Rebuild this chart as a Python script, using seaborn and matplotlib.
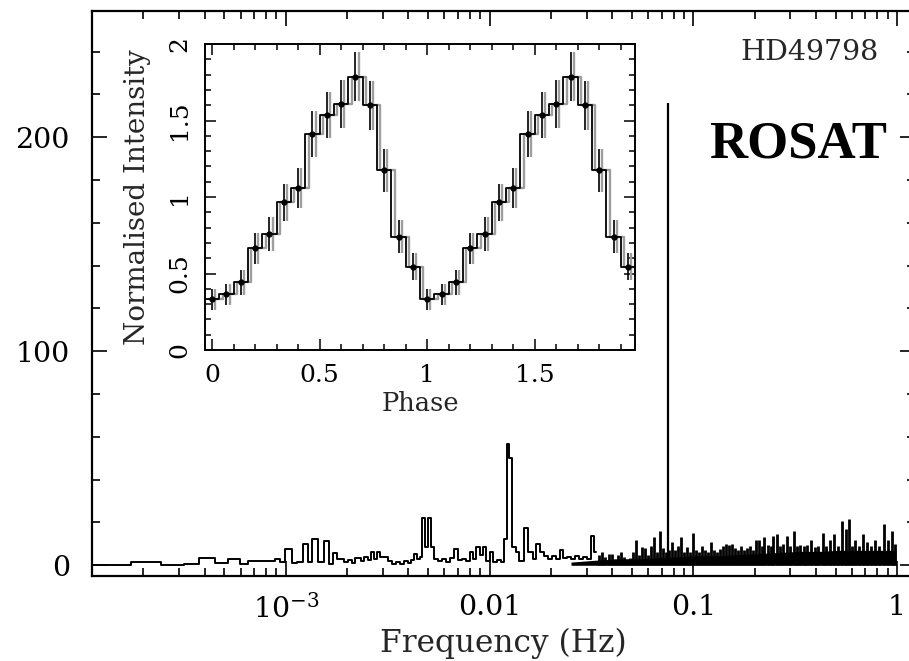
import numpy as np
import pandas as pd
import matplotlib
matplotlib.use("Agg")
import matplotlib.pyplot as plt
from matplotlib import font_manager
from matplotlib.font_manager import FontProperties
from matplotlib.ticker import (FixedLocator, FixedFormatter, MultipleLocator, LogLocator,
                               NullFormatter, FuncFormatter)
import seaborn as sns

# ---------------- power spectrum data ----------------
# low-frequency part: binned power (bin edges in log10 Hz, one level per bin)
low_edges_log = [-3.960, -3.760, -3.613, -3.500, -3.426, -3.348, -3.284, -3.225, -3.186,
                 -3.054, -3.029, -3.005, -2.971, -2.946, -2.917, -2.892, -2.873, -2.843,
                 -2.814, -2.789, -2.770, -2.750, -2.735, -2.716, -2.696, -2.676, -2.662, -2.637]
low_power = [0.3, 1.5, 0.1, 0.4, 3.2, 1.0, 3.1, 0.5, 2.2, 3.0, 1.5, 7.5, 1.0, 1.5, 9.8,
             1.5, 12.5, 1.5, 11.4, 0.8, 5.9, 3.0, 3.0, 1.5, 2.5, 1.0, 3.5]

# intermediate frequencies (log10 Hz, power)
mid_log_freq = [-2.627, -2.608, -2.588, -2.574, -2.559, -2.544, -2.529, -2.510, -2.490, -2.471,
                -2.451, -2.431, -2.412, -2.392, -2.377, -2.363, -2.348, -2.338, -2.324, -2.309,
                -2.294, -2.279, -2.265, -2.245, -2.225, -2.206, -2.186, -2.162, -2.147, -2.127,
                -2.108, -2.088, -2.074, -2.054, -2.039, -2.025, -2.010, -1.990, -1.975, -1.956,
                -1.936, -1.922, -1.907, -1.897, -1.882, -1.863, -1.843, -1.819, -1.799, -1.779,
                -1.760, -1.740, -1.721, -1.701, -1.681, -1.662, -1.647, -1.627, -1.608, -1.588,
                -1.569, -1.549, -1.529, -1.510, -1.495, -1.475]
mid_power = [2.0, 4.0, 2.5, 6.0, 3.0, 6.2, 3.7, 4.0, 2.0, 0.8,
             1.5, 0.5, 1.8, 1.0, 2.5, 5.5, 3.0, 4.0, 22.0, 8.6,
             22.0, 8.6, 3.0, 2.0, 3.0, 1.5, 3.5, 7.8, 2.5, 3.0,
             2.0, 6.0, 3.0, 8.6, 5.0, 8.6, 2.0, 6.0, 1.5, 2.3,
             1.5, 12.5, 56.5, 50.0, 8.6, 6.0, 2.0, 17.6, 6.0, 3.0,
             10.0, 6.0, 4.5, 3.0, 4.5, 3.0, 7.0, 3.5, 4.0, 3.0,
             4.5, 3.0, 4.0, 3.0, 13.5, 6.0]

# high frequencies: individual noise peaks (log10 Hz, power)
hf_log_freq = [-1.461, -1.446, -1.431, -1.412, -1.397, -1.382, -1.368, -1.353, -1.338, -1.324,
               -1.309, -1.294, -1.279, -1.265, -1.250, -1.235, -1.221, -1.206, -1.191, -1.176,
               -1.162, -1.147, -1.132, -1.118, -1.103, -1.088, -1.074, -1.059, -1.044, -1.029,
               -1.015, -1.000, -0.985, -0.971, -0.956, -0.941, -0.926, -0.912, -0.897, -0.882,
               -0.868, -0.853, -0.838, -0.824, -0.809, -0.794, -0.779, -0.765, -0.750, -0.735,
               -0.721, -0.706, -0.691, -0.676, -0.662, -0.652, -0.632, -0.618, -0.608, -0.588,
               -0.574, -0.559, -0.539, -0.525, -0.505, -0.490, -0.475, -0.456, -0.441, -0.422,
               -0.402, -0.387, -0.363, -0.348, -0.328, -0.309, -0.289, -0.270, -0.250, -0.235,
               -0.221, -0.206, -0.186, -0.167, -0.147, -0.127, -0.108, -0.088, -0.064, -0.044,
               -0.025, -0.010]
hf_power = [5.0, 6.0, 4.0, 5.4, 5.4, 3.0, 5.0, 6.2, 4.0, 3.0,
            3.5, 6.0, 11.7, 5.0, 8.7, 8.0, 5.0, 9.0, 13.2, 6.0,
            16.0, 8.0, 6.0, 7.0, 10.7, 7.0, 9.0, 13.0, 6.0, 8.6,
            6.0, 14.9, 7.0, 6.0, 9.0, 7.0, 6.0, 10.7, 7.0, 6.0,
            7.5, 9.0, 10.0, 9.5, 10.0, 8.0, 7.0, 9.0, 7.0, 8.0,
            9.0, 7.0, 11.7, 11.7, 9.0, 13.0, 9.3, 9.0, 13.9, 14.7,
            9.0, 10.0, 13.9, 9.0, 16.0, 9.0, 9.3, 9.0, 9.3, 12.0,
            8.6, 9.0, 15.0, 9.0, 11.7, 14.7, 9.0, 20.7, 17.0, 21.8,
            9.0, 11.7, 9.0, 14.7, 11.0, 9.0, 11.7, 9.0, 19.5, 11.7,
            16.0, 10.0]

# noise continuum level (log10 Hz, power)
cont_log_freq = [-1.600, -1.461, -1.363, -1.265, -1.167, -1.069, -0.971,
                 -0.873, -0.775, -0.676, -0.578, -0.480, -0.382, -0.284, -0.186, -0.088, -0.005]
cont_power = [1.5, 2.5, 3.0, 3.0, 3.5, 4.0, 4.5, 4.5, 5.0, 5.5, 6.0, 6.5, 6.5,
              7.0, 7.0, 7.0, 7.0]

# spin frequency peak
peak_freq = 0.0754
peak_power = 216.0

freq_ticks = [1e-3, 0.01, 0.1, 1.0]
freq_tick_labels = [r"$10^{-3}$", "0.01", "0.1", "1"]
power_ticks = [0, 100, 200]

# ---------------- folded light curve ----------------
profile = [0.331, 0.364, 0.442, 0.664, 0.758, 0.965, 1.061, 1.410, 1.536, 1.608,
           1.786, 1.601, 1.176, 0.741, 0.545]
profile_err = [0.07, 0.07, 0.08, 0.10, 0.11, 0.12, 0.13, 0.15, 0.15, 0.16,
               0.16, 0.16, 0.14, 0.11, 0.09]
n_bins = len(profile)
phase = np.arange(2 * n_bins) / n_bins
intensity = np.array(profile + profile)
intensity_err = np.array(profile_err + profile_err)

# ---------------- fonts ----------------
def bold_times(size):
    """Bold Times-like face, located by file name when available."""
    for path in font_manager.findSystemFonts():
        name = path.split("/")[-1].lower()
        if name.startswith("liberationserif-bold.") :
            return FontProperties(fname=path, size=size)
    return FontProperties(family=["Liberation Serif", "DejaVu Serif"], weight="bold", size=size)

# ---------------- figure ----------------
sns.set_style("ticks")
plt.rcParams["font.family"] = ["DejaVu Serif"]
plt.rcParams["mathtext.fontset"] = "dejavuserif"

fig = plt.figure(figsize=(9.09, 6.61), dpi=100)
ax = fig.add_axes([0.1012, 0.1286, 0.9054, 0.8548])

lw_spec = 1.4
# low-frequency bins
low_x = 10 ** np.array(low_edges_log)
low_y = np.r_[low_power, low_power[-1]]
sns.lineplot(x=low_x, y=low_y, drawstyle="steps-post", color="k", lw=lw_spec,
             ax=ax, sort=False, estimator=None)
# intermediate range
mid_x = 10 ** np.array(mid_log_freq)
sns.lineplot(x=np.r_[low_x[-1], mid_x], y=np.r_[low_power[-1], mid_power],
             drawstyle="steps-mid", color="k", lw=lw_spec, ax=ax, sort=False, estimator=None)
# noise continuum and individual peaks
cont_x = 10 ** np.array(cont_log_freq)
ax.fill_between(cont_x, 0, cont_power, color="k", lw=0)
hf_x = 10 ** np.array(hf_log_freq)
ax.vlines(hf_x, 0, hf_power, color="k", lw=2.0)
# spin peak
ax.vlines([peak_freq], 0, [peak_power], color="k", lw=1.6)

ax.set_xscale("log")
ax.set_xlim(1.12e-4, 1.225)
ax.set_ylim(-5, 259)
ax.xaxis.set_major_locator(FixedLocator(freq_ticks))
ax.xaxis.set_major_formatter(FixedFormatter(freq_tick_labels))
ax.xaxis.set_minor_locator(LogLocator(base=10, subs=np.arange(2, 10), numticks=20))
ax.xaxis.set_minor_formatter(NullFormatter())
ax.yaxis.set_major_locator(FixedLocator(power_ticks))
ax.yaxis.set_minor_locator(MultipleLocator(20))
ax.tick_params(which="both", direction="in", top=True, right=True, width=1.2, colors="k")
ax.tick_params(which="major", length=11, labelsize=20.5, pad=13)
ax.tick_params(which="minor", length=6)
ax.tick_params(axis="y", which="major", pad=16)
for s in ax.spines.values():
    s.set_linewidth(1.6)
    s.set_color("k")
ax.set_xlabel("Frequency (Hz)", fontsize=22.5, labelpad=3)

ax.text(0.872, 0.926, "HD49798", transform=ax.transAxes, fontsize=20.5,
        ha="center", va="center", color="0.15")
ax.text(0.858, 0.763, "ROSAT", transform=ax.transAxes, fontproperties=bold_times(38),
        ha="center", va="center", color="k")

# ---------------- inset ----------------
ax_in = fig.add_axes([0.2255, 0.4705, 0.4731, 0.4629])
half = 0.5 / n_bins
edges = np.r_[phase - half, phase[-1] + half]
levels = np.r_[intensity, intensity[-1]]
shift = 0.015
sns.lineplot(x=edges + shift, y=levels, drawstyle="steps-post", color="0.62", lw=1.7,
             ax=ax_in, sort=False, estimator=None)
ax_in.errorbar(phase + shift, intensity, yerr=intensity_err, fmt="none",
               ecolor="0.62", elinewidth=1.7, capsize=0)
sns.lineplot(x=edges, y=levels, drawstyle="steps-post", color="k", lw=1.3,
             ax=ax_in, sort=False, estimator=None)
ax_in.errorbar(phase, intensity, yerr=intensity_err, fmt="o", ms=3.5, color="k",
               elinewidth=1.2, capsize=0)

ax_in.set_xlim(-half, phase[-1] + half)
ax_in.set_ylim(0, 2)
ax_in.xaxis.set_major_locator(MultipleLocator(0.5))
ax_in.xaxis.set_minor_locator(MultipleLocator(0.1))
ax_in.yaxis.set_major_locator(MultipleLocator(0.5))
ax_in.yaxis.set_minor_locator(MultipleLocator(0.1))
ax_in.xaxis.set_major_formatter(FuncFormatter(lambda v, p: f"{v:g}"))
ax_in.yaxis.set_major_formatter(FuncFormatter(lambda v, p: f"{v:g}"))
ax_in.tick_params(which="both", direction="in", top=True, right=True, width=1.1, colors="k")
ax_in.tick_params(which="major", length=8, labelsize=18, pad=10)
ax_in.tick_params(which="minor", length=4)
for lab in ax_in.get_yticklabels():
    lab.set_rotation(90)
    lab.set_va("center")
for s in ax_in.spines.values():
    s.set_linewidth(1.4)
    s.set_color("k")
ax_in.set_xlabel("Phase", fontsize=18.5, labelpad=3)
ax_in.set_ylabel("Normalised Intensity", fontsize=20, labelpad=12)

fig.savefig("out.png", dpi=100)
